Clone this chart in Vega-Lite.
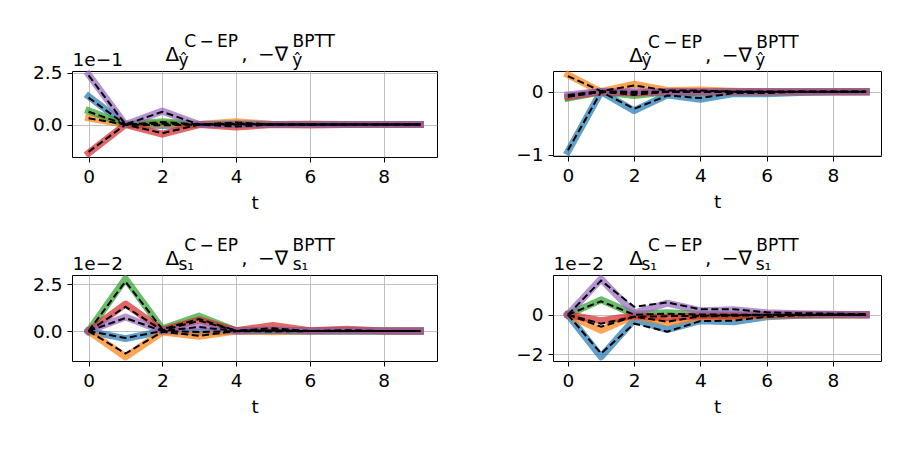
{
"$schema": "https://vega.github.io/schema/vega-lite/v6.json",
"background": "white",
"padding": {"left": 32, "top": 32, "right": 5, "bottom": 5},
"config": {
 "font": "DejaVu Sans",
 "view": {"stroke": "#000", "strokeWidth": 1},
 "axis": {"labelFontSize": 18.5, "labelColor": "#000", "labelFont": "DejaVu Sans", "tickColor": "#000", "tickSize": 5, "tickWidth": 1, "labelPadding": 5, "domain": false, "gridColor": "#b0b0b0", "gridWidth": 0.8, "gridOpacity": 1, "titleFont": "DejaVu Sans", "titleFontSize": 18.5, "titleFontWeight": "normal", "titleColor": "#000", "titlePadding": 5, "labelFlush": false},
 "title": {"font": "DejaVu Sans", "fontSize": 17, "fontWeight": "normal", "color": "#000", "subtitleFont": "DejaVu Sans", "subtitleFontSize": 20, "subtitleColor": "#000", "anchor": "start", "frame": "group", "offset": -16, "subtitlePadding": -6}
},
"datasets": {"d": [
{"p":"A","s":"0","t":0,"c":1.36,"b":1.30},{"p":"A","s":"0","t":1,"c":0,"b":0},{"p":"A","s":"0","t":2,"c":-0.05,"b":-0.04},{"p":"A","s":"0","t":3,"c":0,"b":0},{"p":"A","s":"0","t":4,"c":0.05,"b":0.06},{"p":"A","s":"0","t":5,"c":0,"b":0},{"p":"A","s":"0","t":6,"c":0,"b":0},{"p":"A","s":"0","t":7,"c":0,"b":0},{"p":"A","s":"0","t":8,"c":0,"b":0},{"p":"A","s":"0","t":9,"c":0,"b":0},
{"p":"A","s":"1","t":0,"c":0.32,"b":0.30},{"p":"A","s":"1","t":1,"c":0,"b":0},{"p":"A","s":"1","t":2,"c":0.05,"b":0.04},{"p":"A","s":"1","t":3,"c":0,"b":0},{"p":"A","s":"1","t":4,"c":0.14,"b":0.10},{"p":"A","s":"1","t":5,"c":0,"b":0},{"p":"A","s":"1","t":6,"c":0.03,"b":0.02},{"p":"A","s":"1","t":7,"c":0,"b":0},{"p":"A","s":"1","t":8,"c":0,"b":0},{"p":"A","s":"1","t":9,"c":0,"b":0},
{"p":"A","s":"2","t":0,"c":0.66,"b":0.62},{"p":"A","s":"2","t":1,"c":0,"b":0},{"p":"A","s":"2","t":2,"c":0.13,"b":0.12},{"p":"A","s":"2","t":3,"c":0,"b":0},{"p":"A","s":"2","t":4,"c":0,"b":0},{"p":"A","s":"2","t":5,"c":0,"b":0},{"p":"A","s":"2","t":6,"c":0,"b":0},{"p":"A","s":"2","t":7,"c":0,"b":0},{"p":"A","s":"2","t":8,"c":0,"b":0},{"p":"A","s":"2","t":9,"c":0,"b":0},
{"p":"A","s":"3","t":0,"c":-1.38,"b":-1.32},{"p":"A","s":"3","t":1,"c":0,"b":0},{"p":"A","s":"3","t":2,"c":-0.46,"b":-0.42},{"p":"A","s":"3","t":3,"c":0,"b":0},{"p":"A","s":"3","t":4,"c":-0.12,"b":-0.10},{"p":"A","s":"3","t":5,"c":0,"b":0},{"p":"A","s":"3","t":6,"c":-0.02,"b":-0.02},{"p":"A","s":"3","t":7,"c":0,"b":0},{"p":"A","s":"3","t":8,"c":0,"b":0},{"p":"A","s":"3","t":9,"c":0,"b":0},
{"p":"A","s":"4","t":0,"c":2.42,"b":2.38},{"p":"A","s":"4","t":1,"c":0,"b":0},{"p":"A","s":"4","t":2,"c":0.65,"b":0.62},{"p":"A","s":"4","t":3,"c":0,"b":0},{"p":"A","s":"4","t":4,"c":0.02,"b":0.02},{"p":"A","s":"4","t":5,"c":0,"b":0},{"p":"A","s":"4","t":6,"c":0,"b":0},{"p":"A","s":"4","t":7,"c":0,"b":0},{"p":"A","s":"4","t":8,"c":0,"b":0},{"p":"A","s":"4","t":9,"c":0,"b":0},
{"p":"B","s":"0","t":0,"c":-0.95,"b":-0.93},{"p":"B","s":"0","t":1,"c":0,"b":0},{"p":"B","s":"0","t":2,"c":-0.30,"b":-0.27},{"p":"B","s":"0","t":3,"c":-0.05,"b":-0.06},{"p":"B","s":"0","t":4,"c":-0.12,"b":-0.10},{"p":"B","s":"0","t":5,"c":-0.03,"b":-0.02},{"p":"B","s":"0","t":6,"c":-0.03,"b":-0.02},{"p":"B","s":"0","t":7,"c":-0.01,"b":0},{"p":"B","s":"0","t":8,"c":0,"b":0},{"p":"B","s":"0","t":9,"c":0,"b":0},
{"p":"B","s":"1","t":0,"c":0.27,"b":0.25},{"p":"B","s":"1","t":1,"c":0,"b":0.01},{"p":"B","s":"1","t":2,"c":0.12,"b":0.10},{"p":"B","s":"1","t":3,"c":0.02,"b":0.02},{"p":"B","s":"1","t":4,"c":0.03,"b":0.02},{"p":"B","s":"1","t":5,"c":0.01,"b":0},{"p":"B","s":"1","t":6,"c":0,"b":0},{"p":"B","s":"1","t":7,"c":0,"b":0},{"p":"B","s":"1","t":8,"c":0,"b":0},{"p":"B","s":"1","t":9,"c":0,"b":0},
{"p":"B","s":"2","t":0,"c":-0.10,"b":-0.08},{"p":"B","s":"2","t":1,"c":0,"b":0},{"p":"B","s":"2","t":2,"c":-0.06,"b":-0.05},{"p":"B","s":"2","t":3,"c":0,"b":0},{"p":"B","s":"2","t":4,"c":-0.01,"b":0},{"p":"B","s":"2","t":5,"c":0,"b":0},{"p":"B","s":"2","t":6,"c":0,"b":0},{"p":"B","s":"2","t":7,"c":0,"b":0},{"p":"B","s":"2","t":8,"c":0,"b":0},{"p":"B","s":"2","t":9,"c":0,"b":0},
{"p":"B","s":"3","t":0,"c":-0.08,"b":-0.07},{"p":"B","s":"3","t":1,"c":0,"b":0},{"p":"B","s":"3","t":2,"c":-0.02,"b":-0.02},{"p":"B","s":"3","t":3,"c":0,"b":0},{"p":"B","s":"3","t":4,"c":0,"b":0},{"p":"B","s":"3","t":5,"c":0,"b":0},{"p":"B","s":"3","t":6,"c":0,"b":0},{"p":"B","s":"3","t":7,"c":0,"b":0},{"p":"B","s":"3","t":8,"c":0,"b":0},{"p":"B","s":"3","t":9,"c":0,"b":0},
{"p":"B","s":"4","t":0,"c":-0.05,"b":-0.05},{"p":"B","s":"4","t":1,"c":0.01,"b":0.01},{"p":"B","s":"4","t":2,"c":0,"b":0},{"p":"B","s":"4","t":3,"c":0,"b":0},{"p":"B","s":"4","t":4,"c":0,"b":0},{"p":"B","s":"4","t":5,"c":0,"b":0},{"p":"B","s":"4","t":6,"c":0,"b":0},{"p":"B","s":"4","t":7,"c":0,"b":0},{"p":"B","s":"4","t":8,"c":0,"b":0},{"p":"B","s":"4","t":9,"c":0,"b":0},
{"p":"C","s":"0","t":0,"c":0,"b":0},{"p":"C","s":"0","t":1,"c":-0.40,"b":-0.37},{"p":"C","s":"0","t":2,"c":0,"b":0},{"p":"C","s":"0","t":3,"c":-0.05,"b":-0.05},{"p":"C","s":"0","t":4,"c":0,"b":0},{"p":"C","s":"0","t":5,"c":0,"b":0},{"p":"C","s":"0","t":6,"c":0,"b":0},{"p":"C","s":"0","t":7,"c":0,"b":0},{"p":"C","s":"0","t":8,"c":0,"b":0},{"p":"C","s":"0","t":9,"c":0,"b":0},
{"p":"C","s":"1","t":0,"c":0,"b":0},{"p":"C","s":"1","t":1,"c":-1.38,"b":-1.20},{"p":"C","s":"1","t":2,"c":-0.05,"b":-0.04},{"p":"C","s":"1","t":3,"c":-0.28,"b":-0.25},{"p":"C","s":"1","t":4,"c":0,"b":0},{"p":"C","s":"1","t":5,"c":-0.03,"b":-0.02},{"p":"C","s":"1","t":6,"c":0,"b":0},{"p":"C","s":"1","t":7,"c":0,"b":0},{"p":"C","s":"1","t":8,"c":0,"b":0},{"p":"C","s":"1","t":9,"c":0,"b":0},
{"p":"C","s":"2","t":0,"c":0,"b":0},{"p":"C","s":"2","t":1,"c":2.80,"b":2.65},{"p":"C","s":"2","t":2,"c":0.12,"b":0.10},{"p":"C","s":"2","t":3,"c":0.80,"b":0.65},{"p":"C","s":"2","t":4,"c":0.02,"b":0.02},{"p":"C","s":"2","t":5,"c":0.05,"b":0.04},{"p":"C","s":"2","t":6,"c":0,"b":0},{"p":"C","s":"2","t":7,"c":0.02,"b":0.01},{"p":"C","s":"2","t":8,"c":0,"b":0},{"p":"C","s":"2","t":9,"c":0,"b":0},
{"p":"C","s":"3","t":0,"c":0,"b":0},{"p":"C","s":"3","t":1,"c":1.45,"b":1.30},{"p":"C","s":"3","t":2,"c":0.05,"b":0.04},{"p":"C","s":"3","t":3,"c":0.60,"b":0.55},{"p":"C","s":"3","t":4,"c":0.02,"b":0.02},{"p":"C","s":"3","t":5,"c":0.30,"b":0.15},{"p":"C","s":"3","t":6,"c":0.02,"b":0},{"p":"C","s":"3","t":7,"c":0.10,"b":0.05},{"p":"C","s":"3","t":8,"c":0,"b":0},{"p":"C","s":"3","t":9,"c":0,"b":0},
{"p":"C","s":"4","t":0,"c":0,"b":0},{"p":"C","s":"4","t":1,"c":0.75,"b":0.70},{"p":"C","s":"4","t":2,"c":0,"b":0},{"p":"C","s":"4","t":3,"c":0.25,"b":0.22},{"p":"C","s":"4","t":4,"c":0,"b":0},{"p":"C","s":"4","t":5,"c":0.05,"b":0.04},{"p":"C","s":"4","t":6,"c":0,"b":0},{"p":"C","s":"4","t":7,"c":0,"b":0},{"p":"C","s":"4","t":8,"c":0,"b":0},{"p":"C","s":"4","t":9,"c":0,"b":0},
{"p":"D","s":"0","t":0,"c":0,"b":0},{"p":"D","s":"0","t":1,"c":-2.12,"b":-1.95},{"p":"D","s":"0","t":2,"c":-0.25,"b":-0.45},{"p":"D","s":"0","t":3,"c":-0.75,"b":-0.85},{"p":"D","s":"0","t":4,"c":-0.30,"b":-0.32},{"p":"D","s":"0","t":5,"c":-0.35,"b":-0.30},{"p":"D","s":"0","t":6,"c":-0.10,"b":-0.10},{"p":"D","s":"0","t":7,"c":-0.03,"b":-0.03},{"p":"D","s":"0","t":8,"c":0,"b":0},{"p":"D","s":"0","t":9,"c":0,"b":0},
{"p":"D","s":"1","t":0,"c":0,"b":0},{"p":"D","s":"1","t":1,"c":-0.78,"b":-0.60},{"p":"D","s":"1","t":2,"c":-0.05,"b":-0.10},{"p":"D","s":"1","t":3,"c":-0.40,"b":-0.35},{"p":"D","s":"1","t":4,"c":-0.10,"b":-0.08},{"p":"D","s":"1","t":5,"c":-0.10,"b":-0.05},{"p":"D","s":"1","t":6,"c":-0.03,"b":-0.02},{"p":"D","s":"1","t":7,"c":0,"b":0},{"p":"D","s":"1","t":8,"c":0,"b":0},{"p":"D","s":"1","t":9,"c":0,"b":0},
{"p":"D","s":"2","t":0,"c":0,"b":0},{"p":"D","s":"2","t":1,"c":0.75,"b":0.68},{"p":"D","s":"2","t":2,"c":0.02,"b":0},{"p":"D","s":"2","t":3,"c":0.10,"b":0.05},{"p":"D","s":"2","t":4,"c":0.02,"b":0.01},{"p":"D","s":"2","t":5,"c":0,"b":0},{"p":"D","s":"2","t":6,"c":0,"b":0},{"p":"D","s":"2","t":7,"c":0,"b":0},{"p":"D","s":"2","t":8,"c":0,"b":0},{"p":"D","s":"2","t":9,"c":0,"b":0},
{"p":"D","s":"3","t":0,"c":0,"b":0},{"p":"D","s":"3","t":1,"c":-0.30,"b":-0.45},{"p":"D","s":"3","t":2,"c":-0.05,"b":-0.10},{"p":"D","s":"3","t":3,"c":-0.15,"b":-0.08},{"p":"D","s":"3","t":4,"c":-0.05,"b":-0.05},{"p":"D","s":"3","t":5,"c":-0.05,"b":-0.03},{"p":"D","s":"3","t":6,"c":0,"b":0},{"p":"D","s":"3","t":7,"c":0,"b":0},{"p":"D","s":"3","t":8,"c":0,"b":0},{"p":"D","s":"3","t":9,"c":0,"b":0},
{"p":"D","s":"4","t":0,"c":0,"b":0},{"p":"D","s":"4","t":1,"c":1.80,"b":1.72},{"p":"D","s":"4","t":2,"c":0.08,"b":0.40},{"p":"D","s":"4","t":3,"c":0.58,"b":0.62},{"p":"D","s":"4","t":4,"c":0.20,"b":0.27},{"p":"D","s":"4","t":5,"c":0.25,"b":0.28},{"p":"D","s":"4","t":6,"c":0.10,"b":0.12},{"p":"D","s":"4","t":7,"c":0.05,"b":0.08},{"p":"D","s":"4","t":8,"c":0.02,"b":0.05},{"p":"D","s":"4","t":9,"c":0,"b":0.03}
]},
"data": {"name": "d"},
"columns": 2,
"spacing": {"row": 23, "column": 77},
"concat": [
{
 "width": 365, "height": 86,
 "title": {"text": "\u2060\u2002\u2002\u200aC\u2009\u2212\u2009EP\u2002\u2002\u2002\u2002\u2002\u2002\u2009BPTT", "subtitle": "\u0394\u2002\u2002\u2002\u2002\u2002\u2002\u200a,\u00a0\u2009\u2212\u2207", "dx": 93.5},
 "transform": [{"filter": "datum.p === 'A'"}, {"fold": ["c", "b"], "as": ["k", "v"]}],
 "encoding": {"y": {"field": "v", "type": "quantitative", "scale": {"domain": [-1.57, 2.59], "nice": false, "zero": false}, "axis": {"values": [0, 2.5], "format": ".1f", "title": "1e\u22121", "titleAngle": 0, "titleAlign": "left", "titleBaseline": "alphabetic", "titleX": 0, "titleY": -6}}},
 "layer": [
  {"transform": [{"filter": "datum.k === 'c'"}], "mark": {"type": "line", "strokeWidth": 7, "opacity": 0.7, "strokeCap": "square", "strokeJoin": "round"},
   "encoding": {"x": {"field": "t", "type": "quantitative", "scale": {"domain": [-0.45, 9.45], "nice": false, "zero": false}, "axis": {"values": [0, 2, 4, 6, 8], "title": "t", "labelPadding": 5, "titlePadding": 8}},
    "color": {"field": "s", "type": "nominal", "scale": {"domain": ["0", "1", "2", "3", "4"], "range": ["#1f77b4", "#ff7f0e", "#2ca02c", "#d62728", "#9467bd"]}, "legend": null}}},
  {"transform": [{"filter": "datum.k === 'b'"}], "mark": {"type": "line", "strokeWidth": 2, "color": "#000", "strokeDash": [7, 3.5]},
   "encoding": {"x": {"field": "t", "type": "quantitative", "scale": {"domain": [-0.45, 9.45], "nice": false, "zero": false}, "axis": {"orient": "top", "labels": false, "ticks": false, "domain": false, "grid": false, "title": "\u0177\u2002\u2002\u2002\u2002\u2002\u2002\u2002\u2002\u2002\u2002\u2002\u2002\u200a\u0177", "titleFontSize": 17, "titleX": 106, "titleY": -6, "titleAlign": "left", "titleBaseline": "alphabetic"}},
    "detail": {"field": "s"}}}
 ],
 "resolve": {"axis": {"x": "independent"}}
},
{
 "width": 328, "height": 85,
 "title": {"text": "\u2060\u2002\u2002\u200aC\u2009\u2212\u2009EP\u2002\u2002\u2002\u2002\u2002\u2002\u2009BPTT", "subtitle": "\u0394\u2002\u2002\u2002\u2002\u2002\u2002\u200a,\u00a0\u2009\u2212\u2207", "dx": 76.3},
 "transform": [{"filter": "datum.p === 'B'"}, {"fold": ["c", "b"], "as": ["k", "v"]}],
 "encoding": {"y": {"field": "v", "type": "quantitative", "scale": {"domain": [-1.02, 0.33], "nice": false, "zero": false}, "axis": {"values": [-1, 0], "format": "d", "title": null}}},
 "layer": [
  {"transform": [{"filter": "datum.k === 'c'"}], "mark": {"type": "line", "strokeWidth": 7, "opacity": 0.7, "strokeCap": "square", "strokeJoin": "round"},
   "encoding": {"x": {"field": "t", "type": "quantitative", "scale": {"domain": [-0.45, 9.45], "nice": false, "zero": false}, "axis": {"values": [0, 2, 4, 6, 8], "title": "t", "labelPadding": 5, "titlePadding": 8}},
    "color": {"field": "s", "type": "nominal", "scale": {"domain": ["0", "1", "2", "3", "4"], "range": ["#1f77b4", "#ff7f0e", "#2ca02c", "#d62728", "#9467bd"]}, "legend": null}}},
  {"transform": [{"filter": "datum.k === 'b'"}], "mark": {"type": "line", "strokeWidth": 2, "color": "#000", "strokeDash": [7, 3.5]},
   "encoding": {"x": {"field": "t", "type": "quantitative", "scale": {"domain": [-0.45, 9.45], "nice": false, "zero": false}, "axis": {"orient": "top", "labels": false, "ticks": false, "domain": false, "grid": false, "title": "\u0177\u2002\u2002\u2002\u2002\u2002\u2002\u2002\u2002\u2002\u2002\u2002\u2002\u200a\u0177", "titleFontSize": 17, "titleX": 88, "titleY": -6, "titleAlign": "left", "titleBaseline": "alphabetic"}},
    "detail": {"field": "s"}}}
 ],
 "resolve": {"axis": {"x": "independent"}}
},
{
 "width": 365, "height": 86,
 "title": {"text": "\u2060\u2002\u2002\u200aC\u2009\u2212\u2009EP\u2002\u2002\u2002\u2002\u2002\u2002\u2009BPTT", "subtitle": "\u0394\u2002\u2002\u2002\u2002\u2002\u2002\u200a,\u00a0\u2009\u2212\u2207", "dx": 93.5},
 "transform": [{"filter": "datum.p === 'C'"}, {"fold": ["c", "b"], "as": ["k", "v"]}],
 "encoding": {"y": {"field": "v", "type": "quantitative", "scale": {"domain": [-1.6, 3.0], "nice": false, "zero": false}, "axis": {"values": [0, 2.5], "format": ".1f", "title": "1e\u22122", "titleAngle": 0, "titleAlign": "left", "titleBaseline": "alphabetic", "titleX": 0, "titleY": -6}}},
 "layer": [
  {"transform": [{"filter": "datum.k === 'c'"}], "mark": {"type": "line", "strokeWidth": 7, "opacity": 0.7, "strokeCap": "square", "strokeJoin": "round"},
   "encoding": {"x": {"field": "t", "type": "quantitative", "scale": {"domain": [-0.45, 9.45], "nice": false, "zero": false}, "axis": {"values": [0, 2, 4, 6, 8], "title": "t", "labelPadding": 5, "titlePadding": 8}},
    "color": {"field": "s", "type": "nominal", "scale": {"domain": ["0", "1", "2", "3", "4"], "range": ["#1f77b4", "#ff7f0e", "#2ca02c", "#d62728", "#9467bd"]}, "legend": null}}},
  {"transform": [{"filter": "datum.k === 'b'"}], "mark": {"type": "line", "strokeWidth": 2, "color": "#000", "strokeDash": [7, 3.5]},
   "encoding": {"x": {"field": "t", "type": "quantitative", "scale": {"domain": [-0.45, 9.45], "nice": false, "zero": false}, "axis": {"orient": "top", "labels": false, "ticks": false, "domain": false, "grid": false, "title": "s\u2081\u2002\u2002\u2002\u2002\u2002\u2002\u2002\u2002\u2002\u2002\u2002\u2009\u200as\u2081", "titleFontSize": 17, "titleX": 106, "titleY": -6, "titleAlign": "left", "titleBaseline": "alphabetic"}},
    "detail": {"field": "s"}}}
 ],
 "resolve": {"axis": {"x": "independent"}}
},
{
 "width": 328, "height": 86,
 "title": {"text": "\u2060\u2002\u2002\u200aC\u2009\u2212\u2009EP\u2002\u2002\u2002\u2002\u2002\u2002\u2009BPTT", "subtitle": "\u0394\u2002\u2002\u2002\u2002\u2002\u2002\u200a,\u00a0\u2009\u2212\u2207", "dx": 76.3},
 "transform": [{"filter": "datum.p === 'D'"}, {"fold": ["c", "b"], "as": ["k", "v"]}],
 "encoding": {"y": {"field": "v", "type": "quantitative", "scale": {"domain": [-2.33, 2.0], "nice": false, "zero": false}, "axis": {"values": [-2, 0], "format": "d", "title": "1e\u22122", "titleAngle": 0, "titleAlign": "left", "titleBaseline": "alphabetic", "titleX": 0, "titleY": -6}}},
 "layer": [
  {"transform": [{"filter": "datum.k === 'c'"}], "mark": {"type": "line", "strokeWidth": 7, "opacity": 0.7, "strokeCap": "square", "strokeJoin": "round"},
   "encoding": {"x": {"field": "t", "type": "quantitative", "scale": {"domain": [-0.45, 9.45], "nice": false, "zero": false}, "axis": {"values": [0, 2, 4, 6, 8], "title": "t", "labelPadding": 5, "titlePadding": 8}},
    "color": {"field": "s", "type": "nominal", "scale": {"domain": ["0", "1", "2", "3", "4"], "range": ["#1f77b4", "#ff7f0e", "#2ca02c", "#d62728", "#9467bd"]}, "legend": null}}},
  {"transform": [{"filter": "datum.k === 'b'"}], "mark": {"type": "line", "strokeWidth": 2, "color": "#000", "strokeDash": [7, 3.5]},
   "encoding": {"x": {"field": "t", "type": "quantitative", "scale": {"domain": [-0.45, 9.45], "nice": false, "zero": false}, "axis": {"orient": "top", "labels": false, "ticks": false, "domain": false, "grid": false, "title": "s\u2081\u2002\u2002\u2002\u2002\u2002\u2002\u2002\u2002\u2002\u2002\u2002\u2009\u200as\u2081", "titleFontSize": 17, "titleX": 88, "titleY": -6, "titleAlign": "left", "titleBaseline": "alphabetic"}},
    "detail": {"field": "s"}}}
 ],
 "resolve": {"axis": {"x": "independent"}}
}
]
}
